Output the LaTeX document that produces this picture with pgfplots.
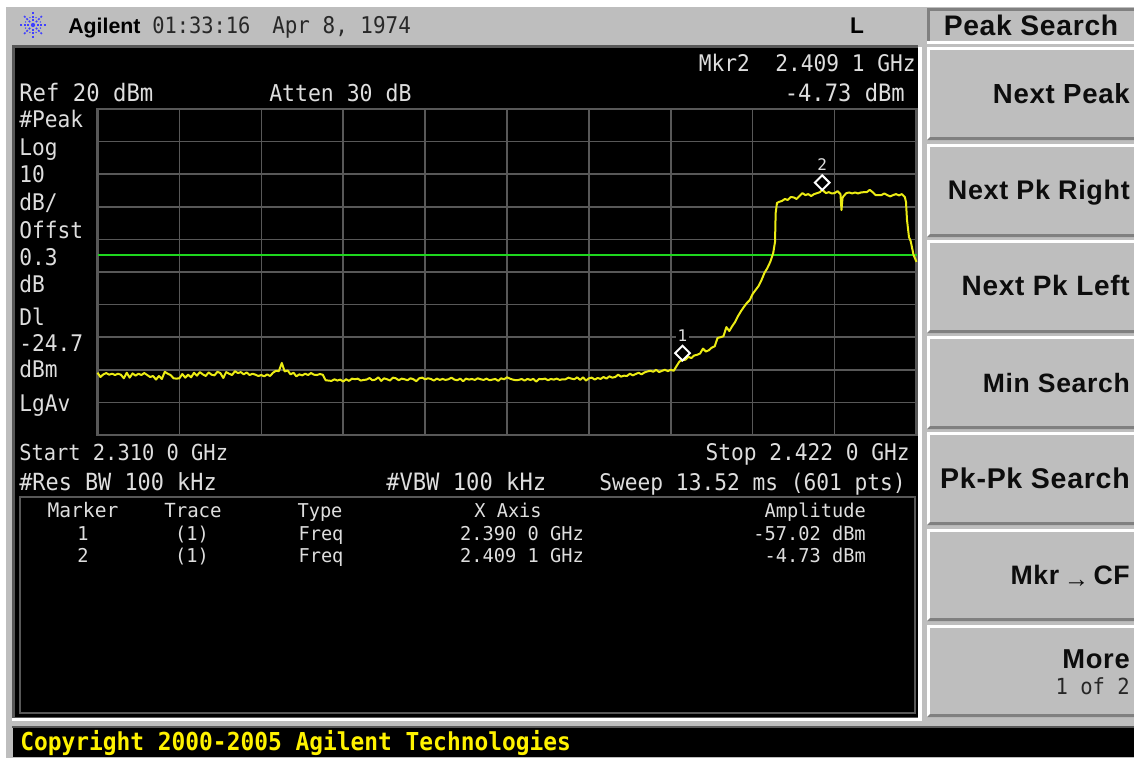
\documentclass[border=0pt]{standalone}
\usepackage{pgfplots}
\pgfplotsset{compat=1.18}
\usepackage{fontspec}
\setmainfont{Liberation Sans}
\newfontfamily\scr{DejaVu Sans Mono}
\newfontfamily\key[LetterSpace=2.5]{Liberation Sans}
\definecolor{panel}{RGB}{190,190,190}
\definecolor{edge}{RGB}{128,128,128}
\definecolor{gridc}{RGB}{88,88,88}
\definecolor{txt}{RGB}{222,222,222}
\definecolor{dark}{RGB}{40,40,40}
\definecolor{trace}{RGB}{235,235,20}
\definecolor{limit}{RGB}{30,215,30}
\newcommand{\T}[5][15.9]{\node[anchor=#4,inner sep=0pt,text=txt,font=\fontsize{#1}{18}\selectfont\scr] at (#2,#3) {\scalebox{1}[1.08]{#5}};}
\newcommand{\Ts}[5][14]{\node[anchor=#4,inner sep=0pt,text=txt,font=\fontsize{#1}{16}\selectfont\scr] at (#2,#3) {\scalebox{1}[1.02]{#5}};}
\newcommand{\K}[3]{\node[anchor=base east,inner sep=0pt,text=black!95,font=\fontsize{#1}{22}\selectfont\key\bfseries] at (1130,#2) {#3};}
\newcommand{\Btn}[2]{%
 \fill[white] (927,#1) rectangle (1134,#2);
 \fill[edge] (930,#1+3) -- (1134,#1+3) -- (1134,#2) -- (927,#2) -- (930,#2-3) -- (1134,#2-3) -- cycle;
 \fill[panel] (930,#1+3) rectangle (1134,#2-3);
}
\begin{document}
\begin{tikzpicture}[x=0.75pt,y=-0.75pt]
\path[use as bounding box,fill=white] (0,0) rectangle (1134,758);
\fill[panel] (6,7) rectangle (1134,758);
% screen
\fill[gridc] (12,45) rectangle (918,718);
\fill[black] (15,48) rectangle (918,717);
\fill[white] (918,47) rectangle (922,721);
\fill[white] (12,718) rectangle (922,721);
% softkeys
\fill[edge] (927,8) rectangle (1134,43);
\fill[panel] (930,11) rectangle (1134,41);
\fill[white] (927,41) rectangle (1134,44);
\Btn{47}{140}\Btn{144}{237}\Btn{240}{333}\Btn{336}{429}\Btn{432}{525}\Btn{529}{621}\Btn{625}{717}
% bottom bar
\fill[gridc] (12,726) rectangle (1134,728);
\fill[black] (13,728) rectangle (1134,757);
\node[anchor=base west,inner sep=0pt,text=yellow,font=\fontsize{17.15}{20}\selectfont\scr\bfseries] at (20,750) {\scalebox{1}[1.08]{Copyright 2000-2005 Agilent Technologies}};
% table box
\draw[gridc,line width=1.5pt] (20,497) rectangle (915,713);
% header
\foreach \a in {0,45,...,315}{
  \draw[blue!75!white,line width=1.1pt,dash pattern=on 1.5pt off 1pt] (33,25) ++(\a:3pt) -- ++(\a:7.5pt);
}
\foreach \a in {22.5,67.5,...,337.5}{
  \fill[blue!75!white] (33,25) ++(\a:6pt) circle (0.6pt);
}
\fill[blue!75!white] (33,25) circle (1.6pt);
\node[anchor=base west,inner sep=0pt,text=black,font=\fontsize{16}{18}\selectfont\bfseries] at (68,33) {Agilent};
\node[anchor=base west,inner sep=0pt,text=dark,font=\fontsize{15.3}{18}\selectfont\scr] at (152,33) {\scalebox{1}[1.1]{01:33:16}};
\node[anchor=base west,inner sep=0pt,text=dark,font=\fontsize{15.7}{18}\selectfont\scr] at (272,33) {\scalebox{1}[1.1]{Apr 8, 1974}};
\node[anchor=base,inner sep=0pt,text=black,font=\fontsize{17}{18}\selectfont\bfseries] at (857,33) {L};
\node[anchor=base,inner sep=0pt,text=black!95,font=\fontsize{21.2}{22}\selectfont\key\bfseries] at (1031,35) {Peak Search};
\K{20.7}{103}{Next Peak}
\K{20.2}{199}{Next Pk Right}
\K{21}{295}{Next Pk Left}
\K{19.9}{392}{Min Search}
\K{21.4}{488}{Pk-Pk Search}
\K{20}{584}{Mkr\,{\fontsize{19}{20}\selectfont\raisebox{-2.5pt}{→}}\,CF}
\K{20.5}{668}{More}
\node[anchor=base east,inner sep=0pt,text=black!85,font=\fontsize{15.4}{18}\selectfont\scr] at (1130,694) {\scalebox{1}[1.08]{1 of 2}};
% screen text
\T[16.7]{19}{101}{base west}{Ref 20 dBm}
\T[16.1]{269}{101}{base west}{Atten 30 dB}
\T{916}{71}{base east}{Mkr2\ \ 2.409 1 GHz}
\T[16.6]{905}{101}{base east}{-4.73 dBm}
\T{19}{127}{base west}{\#Peak}
\T{19}{155}{base west}{Log}
\T{19}{182}{base west}{10}
\T{19}{210}{base west}{dB/}
\T{19}{238}{base west}{Offst}
\T{19}{265}{base west}{0.3}
\T{19}{292}{base west}{dB}
\T{19}{325}{base west}{Dl}
\T{19}{351}{base west}{-24.7}
\T{19}{377}{base west}{dBm}
\T{19}{411}{base west}{LgAv}
\T[15.3]{19}{460}{base west}{Start 2.310 0 GHz}
\T{910}{460}{base east}{Stop 2.422 0 GHz}
\T[16.4]{19}{490}{base west}{\#Res BW 100 kHz}
\T[16.6]{386}{490}{base west}{\#VBW 100 kHz}
\T{906}{490}{base east}{Sweep 13.52 ms (601 pts)}
\Ts[14.7]{83}{517}{base}{Marker}
\Ts[14.3]{193}{517}{base}{Trace}
\Ts{320}{517}{base}{Type}
\Ts{508}{517}{base}{X Axis}
\Ts{866}{517}{base east}{Amplitude}
\Ts{83}{540}{base}{1}
\Ts{192}{540}{base}{(1)}
\Ts{321}{540}{base}{Freq}
\Ts{522}{540}{base}{2.390 0 GHz}
\Ts{866}{540}{base east}{-57.02 dBm}
\Ts{83}{562}{base}{2}
\Ts{192}{562}{base}{(1)}
\Ts{321}{562}{base}{Freq}
\Ts{522}{562}{base}{2.409 1 GHz}
\Ts{866}{562}{base east}{-4.73 dBm}
\begin{axis}[
  at={(73.125pt,-326.25pt)},anchor=south west,
  scale only axis,width=614.25pt,height=244.5pt,
  xmin=2.31,xmax=2.422,ymin=-80,ymax=20,
  xtick={2.31,2.3212,2.3324,2.3436,2.3548,2.366,2.3772,2.3884,2.3996,2.4108,2.422},
  ytick={-80,-70,-60,-50,-40,-30,-20,-10,0,10,20},
  xticklabels={},yticklabels={},
  major tick length=0pt,
  grid=major,
  grid style={gridc,line width=1.15pt},
  axis line style={gridc,line width=1.7pt},
  clip=false,
]
\addplot[limit,line width=1.5pt] coordinates {(2.31,-24.7)(2.422,-24.7)};
\addplot[trace,line width=1.5pt,line join=round] coordinates {
(2.3100,-60.9)(2.3104,-62.2)(2.3108,-61.4)(2.3112,-61.0)(2.3116,-61.5)(2.3120,-61.2)(2.3124,-61.6)(2.3128,-61.2)
(2.3132,-61.5)(2.3136,-62.6)(2.3140,-60.9)(2.3144,-62.4)(2.3148,-61.1)(2.3152,-61.8)(2.3156,-61.2)(2.3160,-61.6)
(2.3164,-61.0)(2.3168,-61.6)(2.3172,-62.2)(2.3176,-61.9)(2.3180,-63.0)(2.3184,-61.9)(2.3188,-62.8)(2.3192,-60.6)
(2.3196,-61.2)(2.3200,-61.6)(2.3204,-62.6)(2.3208,-62.7)(2.3212,-62.6)(2.3216,-61.3)(2.3220,-62.4)(2.3224,-61.5)
(2.3228,-62.3)(2.3232,-60.9)(2.3236,-61.8)(2.3240,-60.7)(2.3244,-61.4)(2.3248,-61.9)(2.3252,-60.8)(2.3256,-61.5)
(2.3260,-61.7)(2.3264,-60.6)(2.3268,-61.0)(2.3272,-62.5)(2.3276,-60.7)(2.3280,-61.2)(2.3284,-61.6)(2.3288,-60.4)
(2.3292,-61.0)(2.3296,-60.7)(2.3300,-61.4)(2.3304,-60.8)(2.3308,-61.6)(2.3312,-61.2)(2.3316,-61.5)(2.3320,-61.9)
(2.3324,-61.6)(2.3328,-62.0)(2.3332,-61.4)(2.3336,-61.9)(2.3340,-60.9)(2.3344,-60.3)(2.3348,-60.4)(2.3352,-57.9)
(2.3356,-60.5)(2.3360,-60.2)(2.3364,-61.4)(2.3368,-60.9)(2.3372,-62.0)(2.3376,-61.4)(2.3380,-61.7)(2.3384,-61.2)
(2.3388,-61.6)(2.3392,-61.0)(2.3396,-61.5)(2.3400,-61.6)(2.3404,-61.3)(2.3408,-61.5)(2.3412,-63.2)(2.3416,-63.3)
(2.3420,-63.4)(2.3424,-62.9)(2.3428,-63.3)(2.3432,-63.0)(2.3436,-63.6)(2.3440,-62.9)(2.3444,-63.4)(2.3448,-62.7)
(2.3452,-62.9)(2.3456,-62.7)(2.3460,-63.3)(2.3464,-63.1)(2.3468,-63.0)(2.3472,-62.5)(2.3476,-63.2)(2.3480,-63.0)
(2.3484,-62.3)(2.3488,-63.4)(2.3492,-62.6)(2.3496,-62.9)(2.3500,-63.3)(2.3504,-62.4)(2.3508,-62.6)(2.3512,-63.2)
(2.3516,-62.7)(2.3520,-62.9)(2.3524,-63.2)(2.3528,-62.6)(2.3532,-62.9)(2.3536,-63.5)(2.3540,-62.6)(2.3544,-62.4)
(2.3548,-62.9)(2.3552,-62.6)(2.3556,-62.8)(2.3560,-63.3)(2.3564,-62.7)(2.3568,-63.1)(2.3572,-62.8)(2.3576,-63.1)
(2.3580,-62.9)(2.3584,-62.4)(2.3588,-63.0)(2.3592,-63.2)(2.3596,-62.7)(2.3600,-63.5)(2.3604,-62.7)(2.3608,-63.0)
(2.3612,-62.8)(2.3616,-63.1)(2.3620,-62.6)(2.3624,-62.9)(2.3628,-63.1)(2.3632,-62.7)(2.3636,-63.2)(2.3640,-63.0)
(2.3644,-62.8)(2.3648,-63.4)(2.3652,-62.6)(2.3656,-62.9)(2.3660,-62.3)(2.3664,-62.7)(2.3668,-63.0)(2.3672,-63.2)
(2.3676,-63.1)(2.3680,-62.8)(2.3684,-63.3)(2.3688,-62.8)(2.3692,-63.1)(2.3696,-62.8)(2.3700,-63.6)(2.3704,-62.8)
(2.3708,-62.9)(2.3712,-62.7)(2.3716,-63.2)(2.3720,-62.8)(2.3724,-63.0)(2.3728,-62.7)(2.3732,-63.1)(2.3736,-62.9)
(2.3740,-62.9)(2.3744,-62.4)(2.3748,-62.7)(2.3752,-62.9)(2.3756,-62.3)(2.3760,-63.1)(2.3764,-62.3)(2.3768,-63.3)
(2.3772,-62.6)(2.3776,-62.4)(2.3780,-63.0)(2.3784,-62.5)(2.3788,-62.8)(2.3792,-62.2)(2.3796,-62.7)(2.3800,-62.0)
(2.3804,-62.4)(2.3808,-62.2)(2.3812,-61.5)(2.3816,-62.1)(2.3820,-61.8)(2.3824,-61.9)(2.3828,-61.2)(2.3832,-61.7)
(2.3836,-61.3)(2.3840,-60.9)(2.3844,-61.4)(2.3848,-60.8)(2.3852,-60.5)(2.3856,-60.3)(2.3860,-60.6)(2.3864,-60.0)
(2.3868,-60.7)(2.3872,-60.3)(2.3876,-60.0)(2.3880,-60.4)(2.3884,-60.0)(2.3888,-60.3)(2.3892,-58.8)(2.3896,-57.4)
(2.3900,-57.02)(2.3904,-56.9)(2.3908,-56.0)(2.3912,-56.4)(2.3916,-55.6)(2.3920,-55.4)(2.3924,-55.0)(2.3928,-53.5)
(2.3932,-54.4)(2.3936,-54.0)(2.3940,-53.2)(2.3944,-52.8)(2.3948,-50.2)(2.3952,-50.0)(2.3956,-49.7)(2.3960,-46.9)
(2.3964,-48.1)(2.3968,-46.6)(2.3972,-45.3)(2.3976,-43.5)(2.3980,-42.0)(2.3984,-40.7)(2.3988,-39.5)(2.3992,-38.6)
(2.3996,-36.7)(2.4000,-35.5)(2.4004,-34.3)(2.4008,-32.5)(2.4012,-30.3)(2.4016,-28.8)(2.4020,-26.9)(2.4024,-24.2)
(2.40265,-20.8)(2.40274,-11.9)(2.40292,-8.8)(2.4032,-8.5)(2.4036,-8.2)(2.4040,-7.6)(2.4044,-7.9)(2.4048,-7.0)
(2.4052,-7.1)(2.4056,-7.6)(2.4060,-6.7)(2.4064,-5.8)(2.4068,-6.4)(2.4072,-6.1)(2.4076,-6.7)(2.4080,-6.1)
(2.4084,-5.8)(2.4088,-5.5)(2.4091,-4.73)(2.4096,-5.8)(2.4100,-5.5)(2.4104,-5.9)(2.4108,-5.8)(2.4112,-5.2)
(2.4116,-6.1)(2.41174,-11.0)(2.41188,-7.3)(2.4120,-6.8)(2.4124,-5.8)(2.4128,-5.6)(2.4132,-5.9)(2.4136,-5.6)
(2.4140,-5.9)(2.4144,-5.6)(2.4148,-5.5)(2.4152,-5.5)(2.4156,-4.8)(2.4160,-5.5)(2.4164,-6.4)(2.4168,-6.4)
(2.4172,-6.4)(2.4176,-5.9)(2.4180,-6.4)(2.4184,-6.8)(2.4188,-6.4)(2.4192,-6.1)(2.4196,-6.5)(2.4200,-6.1)
(2.4204,-7.0)(2.42056,-8.5)(2.42070,-14.0)(2.42097,-19.3)(2.4212,-20.5)(2.4216,-24.8)(2.4220,-26.9)
};
\addplot[only marks,mark=square*,mark size=3.9pt,mark options={draw=white,fill=black,line width=1.5pt,yshift=5.25pt,rotate=45}]
  coordinates {(2.3900,-57.02)(2.4091,-4.73)};
\node[fill=black,inner sep=1pt,text=txt,font=\fontsize{12}{13}\selectfont\scr,yshift=18pt] at (axis cs:2.3900,-57.02) {1};
\node[fill=black,inner sep=1pt,text=txt,font=\fontsize{12}{13}\selectfont\scr,yshift=18.5pt] at (axis cs:2.4091,-4.73) {2};
\end{axis}
\end{tikzpicture}
\end{document}
